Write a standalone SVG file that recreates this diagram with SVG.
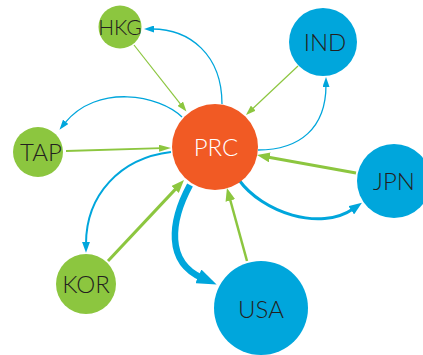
<svg xmlns="http://www.w3.org/2000/svg" width="423" height="355" viewBox="0 0 423 355">
<style>
.g{fill:#8cc63f}.b{fill:#00a6dc}.o{fill:#f15a24}
.t{font-family:Lato,"Liberation Sans",sans-serif;font-weight:300;font-size:24px;fill:#231f20;text-anchor:middle}
.lg{fill:none;stroke:#8cc63f}.lb{fill:none;stroke:#00a6dc}
</style>
<defs>
<marker id="bs" viewBox="0 0 10 10" refX="2" refY="5" markerWidth="10" markerHeight="7" markerUnits="userSpaceOnUse" orient="auto" preserveAspectRatio="none"><path d="M0,0L10,5L0,10z" fill="#00a6dc"/></marker>
<marker id="bk" viewBox="0 0 10 10" refX="2" refY="5" markerWidth="11" markerHeight="8" markerUnits="userSpaceOnUse" orient="auto" preserveAspectRatio="none"><path d="M0,0L10,5L0,10z" fill="#00a6dc"/></marker>
<marker id="bm" viewBox="0 0 10 10" refX="2" refY="5" markerWidth="13" markerHeight="10" markerUnits="userSpaceOnUse" orient="auto" preserveAspectRatio="none"><path d="M0,0L10,5L0,10z" fill="#00a6dc"/></marker>
<marker id="bl" viewBox="0 0 10 10" refX="2" refY="5" markerWidth="20" markerHeight="15" markerUnits="userSpaceOnUse" orient="auto" preserveAspectRatio="none"><path d="M0,0L10,5L0,10z" fill="#00a6dc"/></marker>
<marker id="gs" viewBox="0 0 10 10" refX="2" refY="5" markerWidth="10" markerHeight="7" markerUnits="userSpaceOnUse" orient="auto" preserveAspectRatio="none"><path d="M0,0L10,5L0,10z" fill="#8cc63f"/></marker>
<marker id="gt" viewBox="0 0 10 10" refX="2" refY="5" markerWidth="12" markerHeight="7" markerUnits="userSpaceOnUse" orient="auto" preserveAspectRatio="none"><path d="M0,0L10,5L0,10z" fill="#8cc63f"/></marker>
<marker id="gm" viewBox="0 0 10 10" refX="2" refY="5" markerWidth="13" markerHeight="10" markerUnits="userSpaceOnUse" orient="auto" preserveAspectRatio="none"><path d="M0,0L10,5L0,10z" fill="#8cc63f"/></marker>
</defs>
<g id="connectors">
<path class="lb" stroke-width="1.3" d="M222 104C222 55 190 29 152 29" marker-end="url(#bs)"/>
<path class="lg" stroke-width="1.2" d="M134 45L181.5 105.3" marker-end="url(#gs)"/>
<path class="lb" stroke-width="1.3" d="M182 117C160 95 97 83 64.5 123.4" marker-end="url(#bs)"/>
<path class="lg" stroke-width="1.8" d="M66 151L161.4 148.2" marker-end="url(#gt)"/>
<path class="lb" stroke-width="2" d="M171 152C120 158 86 195 86 244" marker-end="url(#bk)"/>
<path class="lg" stroke-width="3" d="M108 261L176.9 187.6" marker-end="url(#gm)"/>
<path class="lb" stroke-width="6.5" d="M190 185C170 222 166 262 202 278" marker-end="url(#bl)"/>
<path class="lg" stroke-width="2.5" d="M247 261L229.7 198" marker-end="url(#gm)"/>
<path class="lb" stroke-width="3" d="M239 180C262 212 320 232 353.4 208.8" marker-end="url(#bm)"/>
<path class="lg" stroke-width="3" d="M356 173L267.2 156.9" marker-end="url(#gm)"/>
<path class="lg" stroke-width="1.2" d="M298 66L251.8 109.5" marker-end="url(#gs)"/>
<path class="lb" stroke-width="1.3" d="M258 150C300 150 326 128 326 85" marker-end="url(#bs)"/>
</g>
<g id="HKG"><circle class="g" cx="120" cy="27" r="21.5"/><text class="t" x="120" y="35" style="font-size:21px">HKG</text></g>
<g id="TAP"><circle class="g" cx="38" cy="152" r="25"/><text class="t" x="41" y="161">TAP</text></g>
<g id="PRC"><circle class="o" cx="215" cy="147" r="43"/><text class="t" x="216" y="156" style="fill:#fff">PRC</text></g>
<g id="IND"><circle class="b" cx="323" cy="42" r="34"/><text class="t" x="325" y="51">IND</text></g>
<g id="JPN"><circle class="b" cx="394" cy="181" r="37"/><text class="t" x="394" y="190">JPN</text></g>
<g id="USA"><circle class="b" cx="261" cy="308" r="47"/><text class="t" x="261" y="318">USA</text></g>
<g id="KOR"><circle class="g" cx="86" cy="284" r="30"/><text class="t" x="86" y="293">KOR</text></g>
</svg>
